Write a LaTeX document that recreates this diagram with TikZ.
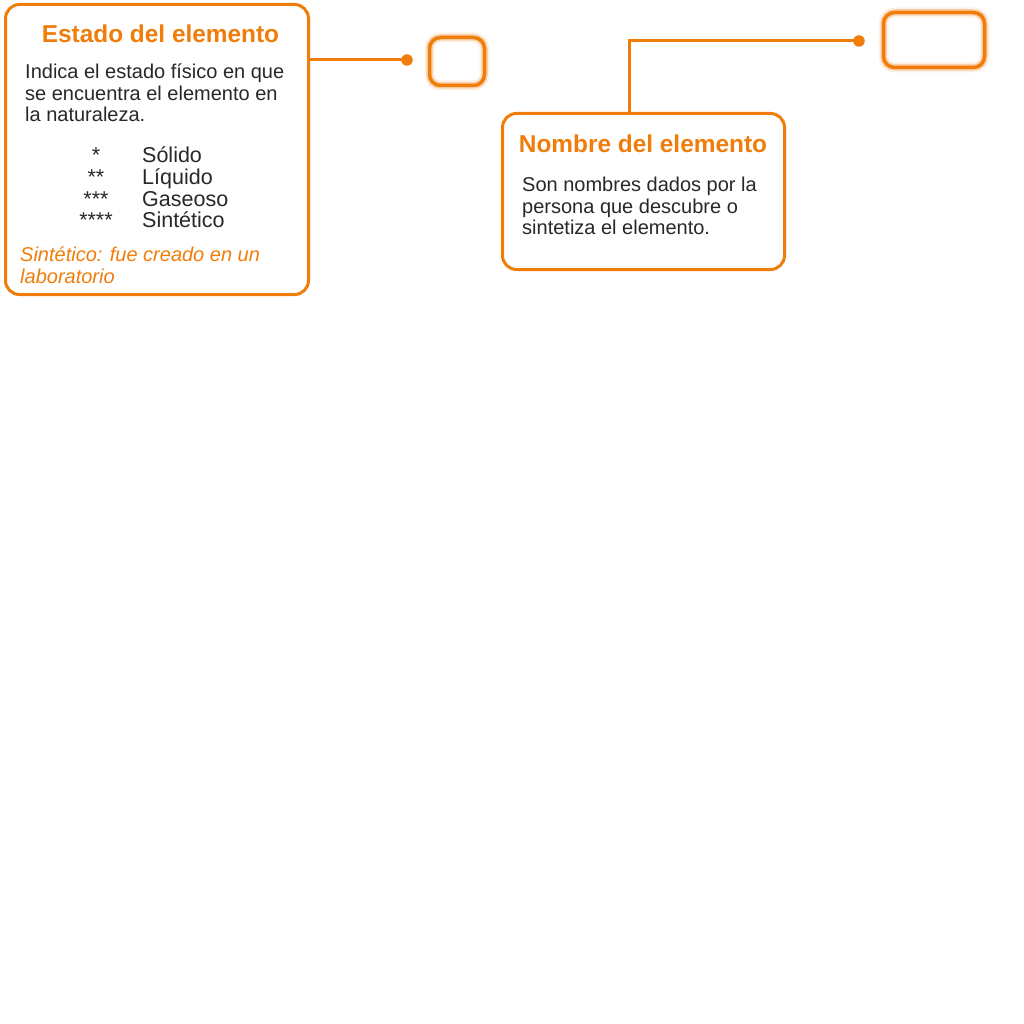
\documentclass[tikz,border=0pt]{standalone}
\usepackage{fontspec}
\setmainfont{Liberation Sans}
\usepackage{xcolor}
\usetikzlibrary{positioning, calc}
\definecolor{elemorange}{RGB}{240,125,10}
\definecolor{elemtext}{RGB}{40,40,40}

\begin{document}
\begin{tikzpicture}[x=1pt, y=-1pt,
    infobox/.style={draw=elemorange, line width=3pt, rounded corners=14pt, fill=white, inner sep=0pt},
    glowbox/.style={draw=elemorange, line width=3.5pt, rounded corners=11pt, inner sep=0pt,
        preaction={draw=elemorange, line width=10pt, opacity=0.10},
        preaction={draw=elemorange, line width=6.5pt, opacity=0.25}},
    dotmark/.style={circle, fill=elemorange, inner sep=0pt, minimum size=11.5pt},
    link/.style={draw=elemorange, line width=3pt},
    titletext/.style={font=\fontsize{24.4}{28}\selectfont\bfseries, text=elemorange, inner sep=0pt},
    bodytext/.style={font=\fontsize{20}{21.7}\selectfont, text=elemtext, align=left, inner sep=0pt},
    listtext/.style={font=\fontsize{21.5}{21.7}\selectfont, text=elemtext, inner sep=0pt},
    notetext/.style={font=\fontsize{20}{21}\selectfont\itshape, text=elemorange, align=left, inner sep=0pt}]
% Page
\fill[white] (0,0) rectangle (1024,1024);
\useasboundingbox (0,0) rectangle (1024,1024);

% Estado del elemento (base = last line)
\node[infobox, minimum width=303pt, minimum height=290pt] (estado) at (157,149.5) {};
\node[titletext, anchor=base] (estadotitle) at (160.5,43) {Estado del elemento};
\node[bodytext, anchor=base west] (estadobody) at (25,122) {Indica el estado físico en que\\se encuentra el elemento en\\la naturaleza.};
\node[listtext, align=center, anchor=base] (stars) at (96,228) {*\\**\\***\\****};
\node[listtext, align=left, anchor=base west] (states) at (142,228) {Sólido\\Líquido\\Gaseoso\\Sintético};
\node[notetext, anchor=base west] (note) at (20,283) {Sintético: fue creado en un\\laboratorio};

% Small target box
\node[dotmark] (dot1) at (407,60) {};
\node[glowbox, minimum width=55pt, minimum height=48pt] (slot1) at (457,61.5) {};
\draw[link] (estado.east |- dot1) -- (dot1.center);

% Nombre del elemento
\node[infobox, minimum width=282pt, minimum height=156pt] (nombre) at (643.5,191.5) {};
\node[titletext, anchor=base] (nombretitle) at (643,153) {Nombre del elemento};
\node[bodytext, anchor=base west] (nombrebody) at (522,235) {Son nombres dados por la\\persona que descubre o\\sintetiza el elemento.};

% Wide target box
\node[dotmark] (dot2) at (859,41) {};
\node[glowbox, minimum width=101pt, minimum height=55pt] (slot2) at (934,40) {};
\draw[link] ($(nombre.north west)+(128.5,0)$) |- (dot2.center);
\end{tikzpicture}
\end{document}
